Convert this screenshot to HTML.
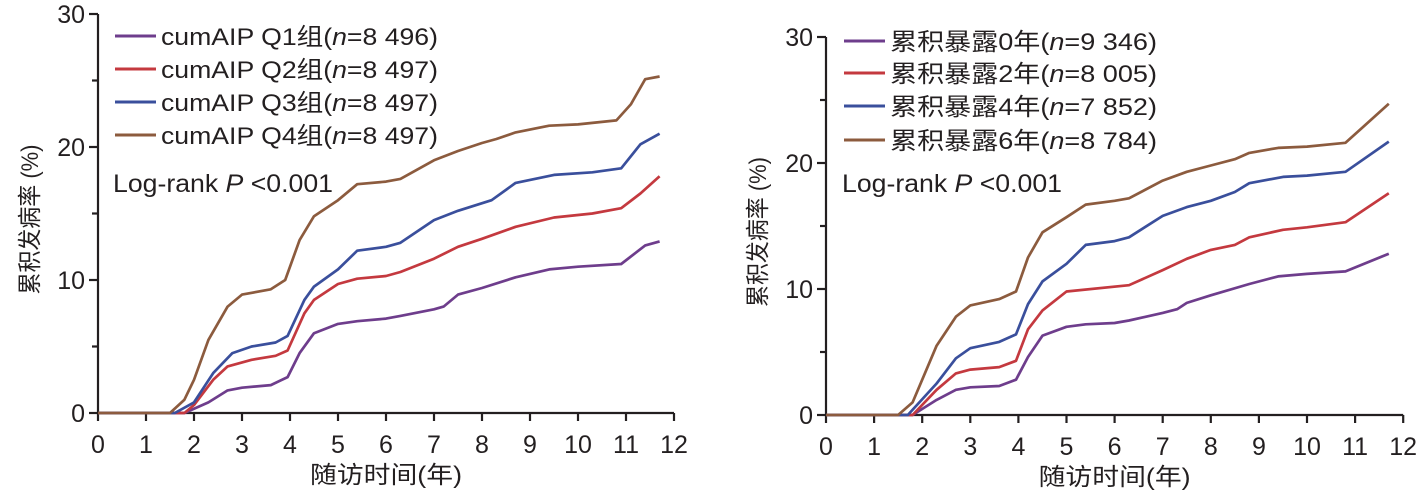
<!DOCTYPE html>
<html><head><meta charset="utf-8"><style>
html,body{margin:0;padding:0;background:#fff}
svg text{font-family:"Liberation Sans","Noto Sans CJK SC",sans-serif;fill:#231f20}
</style></head><body>
<svg id="s" width="1418" height="498" viewBox="0 0 1418 498" xmlns="http://www.w3.org/2000/svg"></svg>
<script>
const S=document.getElementById('s');let h='';
const col=['#6e3d8c','#c4393f','#3a4f9c','#8c5b3e'];
function chart(o){
 const X=t=>o.x0+t*o.px, Y=v=>o.y0-v*o.py;
 h+=`<g stroke="#231f20" stroke-width="2.2" fill="none"><path d="M${o.x0},${Y(30)}V${o.y0}H${X(12)}"/>`;
 for(let i=0;i<=12;i++)h+=`<path d="M${X(i)},${o.y0}v8"/>`;
 for(let v=0;v<=30;v+=5)h+=`<path d="M${o.x0},${Y(v)}h-${v%10?6:9}"/>`;
 h+='</g>';
 for(let i=0;i<=12;i++)h+=`<text x="${X(i)}" y="${o.y0+40}" font-size="25" text-anchor="middle">${i}</text>`;
 for(let v=0;v<=30;v+=10)h+=`<text x="${o.x0-13}" y="${Y(v)+9}" font-size="25" text-anchor="end">${v}</text>`;
 h+=`<text transform="translate(${o.yl},${(o.y0+Y(30))/2+6}) rotate(-90)" font-size="24" text-anchor="middle" textLength="${o.ylw}" lengthAdjust="spacingAndGlyphs">累积发病率 (%)</text>`;
 h+=`<text x="${X(6)}" y="${o.y0+70}" font-size="24" text-anchor="middle" textLength="${o.xlw}" lengthAdjust="spacingAndGlyphs">随访时间(年)</text>`;
 o.data.forEach((d,k)=>{
  let p='M'+X(0)+','+o.y0;
  for(let i=0;i<d.length;i+=2)p+=' L'+X(d[i]).toFixed(1)+','+Y(d[i+1]).toFixed(1);
  h+=`<path d="${p}" stroke="${col[k]}" stroke-width="2.7" fill="none" stroke-linejoin="round"/>`;
 });
 o.leg.forEach((t,k)=>{const y=o.ly[k];
  h+=`<path d="M${o.lx},${y}h41" stroke="${col[k]}" stroke-width="3"/>`;
  h+=`<text x="${o.lx+46}" y="${y+9}" font-size="24" textLength="${o.lw}" lengthAdjust="spacingAndGlyphs">${t}</text>`;});
 h+=`<text x="${o.lx-2}" y="192" font-size="25" textLength="${o.lgw}" lengthAdjust="spacingAndGlyphs">Log-rank <tspan font-style="italic">P</tspan> &lt;0.001</text>`;
}
const nn='<tspan font-style="italic">n</tspan>';
chart({x0:98,y0:413,px:48,py:13.3,yl:38,ylw:150,xlw:152,lgw:220,lx:115,lw:277,ly:[36,69,102,135],
 leg:['cumAIP Q1组('+nn+'=8 496)','cumAIP Q2组('+nn+'=8 497)','cumAIP Q3组('+nn+'=8 497)','cumAIP Q4组('+nn+'=8 497)'],
 data:[
 [1.8,0,2.3,0.8,2.7,1.7,3.0,1.9,3.6,2.1,3.95,2.7,4.2,4.5,4.5,6,5.0,6.7,5.4,6.9,6.0,7.1,6.3,7.3,7.0,7.8,7.2,8,7.5,8.9,8.0,9.4,8.7,10.2,9.4,10.8,10.0,11,10.9,11.2,11.4,12.6,11.7,12.9],
 [1.8,0,2.0,0.6,2.4,2.5,2.7,3.5,3.2,4,3.7,4.3,3.95,4.7,4.3,7.5,4.5,8.5,5.0,9.7,5.4,10.1,6.0,10.3,6.3,10.6,7.0,11.6,7.5,12.5,8.0,13.1,8.7,14,9.5,14.7,10.3,15,10.9,15.4,11.3,16.5,11.7,17.8],
 [1.6,0,2.0,0.8,2.4,3,2.8,4.5,3.2,5,3.7,5.3,3.95,5.8,4.3,8.5,4.5,9.5,5.0,10.8,5.4,12.2,6.0,12.5,6.3,12.8,7.0,14.5,7.5,15.2,8.2,16,8.7,17.3,9.5,17.9,10.3,18.1,10.9,18.4,11.3,20.2,11.7,21],
 [1.5,0,1.8,1,2.0,2.5,2.3,5.5,2.7,8,3.0,8.9,3.6,9.3,3.9,10,4.2,13,4.5,14.8,5.0,16,5.4,17.2,6.0,17.4,6.3,17.6,7.0,19,7.5,19.7,8.0,20.3,8.3,20.6,8.7,21.1,9.4,21.6,10.0,21.7,10.8,22,11.1,23.2,11.4,25.1,11.7,25.3]]});
chart({x0:826,y0:415,px:48.1,py:12.6,yl:766,ylw:150,xlw:152,lgw:220,lx:844,lw:267,ly:[41,73,106,140],
 leg:['累积暴露0年('+nn+'=9 346)','累积暴露2年('+nn+'=8 005)','累积暴露4年('+nn+'=7 852)','累积暴露6年('+nn+'=8 784)'],
 data:[
 [1.8,0,2.3,1.2,2.7,2,3.0,2.2,3.6,2.3,3.95,2.8,4.2,4.6,4.5,6.3,5.0,7.0,5.4,7.2,6.0,7.3,6.3,7.5,7.0,8.1,7.3,8.4,7.5,8.9,8.0,9.5,8.8,10.4,9.4,11.0,10.0,11.2,10.8,11.4,11.7,12.8],
 [1.8,0,2.3,2,2.7,3.3,3.0,3.6,3.6,3.8,3.95,4.3,4.2,6.8,4.5,8.3,4.8,9.2,5.0,9.8,6.3,10.3,7.0,11.5,7.5,12.4,8.0,13.1,8.5,13.5,8.8,14.1,9.5,14.7,10.0,14.9,10.8,15.3,11.7,17.6],
 [1.7,0,2.3,2.5,2.7,4.5,3.0,5.3,3.6,5.8,3.95,6.4,4.2,8.8,4.5,10.6,5.0,12,5.4,13.5,6.0,13.8,6.3,14.1,7.0,15.8,7.5,16.5,8.0,17,8.5,17.7,8.8,18.4,9.5,18.9,10.0,19,10.8,19.3,11.7,21.7],
 [1.5,0,1.8,1,2.3,5.5,2.7,7.8,3.0,8.7,3.6,9.2,3.95,9.8,4.2,12.5,4.5,14.5,5.0,15.7,5.4,16.7,6.0,17,6.3,17.2,7.0,18.6,7.5,19.3,8.0,19.8,8.5,20.3,8.8,20.8,9.4,21.2,10.0,21.3,10.8,21.6,11.7,24.7]]});
S.innerHTML=h;
</script>
</body></html>
